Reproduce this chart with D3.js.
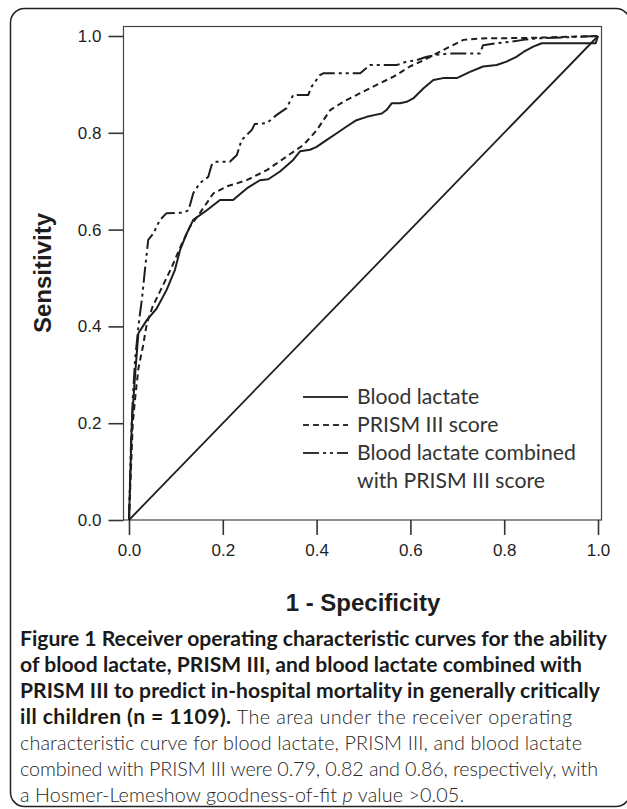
<!DOCTYPE html>
<html>
<head>
<meta charset="utf-8">
<script src="https://cdn.jsdelivr.net/npm/d3@7"></script>
<style>
  body { margin: 0; background: #fff; }
  svg { display: block; }
</style>
</head>
<body>
<svg id="chart"></svg>
<script>
// ROC curves (1 - specificity, sensitivity)
const lactateFpr = [0, 0.003, 0.006, 0.013, 0.020, 0.038, 0.059, 0.080, 0.098, 0.109, 0.123, 0.137, 0.166, 0.194, 0.222, 0.251, 0.279, 0.297, 0.322, 0.350, 0.365, 0.386, 0.400, 0.421, 0.443, 0.464, 0.485, 0.507, 0.525, 0.539, 0.549, 0.560, 0.578, 0.592, 0.606, 0.628, 0.649, 0.670, 0.699, 0.727, 0.755, 0.784, 0.805, 0.826, 0.841, 0.862, 0.880, 0.995, 1];
const lactateTpr = [0, 0.100, 0.200, 0.300, 0.386, 0.413, 0.437, 0.475, 0.517, 0.558, 0.592, 0.620, 0.640, 0.661, 0.661, 0.685, 0.702, 0.704, 0.720, 0.744, 0.762, 0.765, 0.771, 0.785, 0.799, 0.813, 0.826, 0.833, 0.837, 0.840, 0.847, 0.861, 0.861, 0.864, 0.871, 0.892, 0.909, 0.913, 0.913, 0.926, 0.937, 0.940, 0.947, 0.957, 0.967, 0.978, 0.985, 0.985, 1];

const prismFpr = [0, 0.004, 0.008, 0.014, 0.020, 0.030, 0.038, 0.050, 0.070, 0.090, 0.110, 0.130, 0.151, 0.180, 0.208, 0.251, 0.294, 0.336, 0.372, 0.400, 0.429, 0.457, 0.493, 0.528, 0.564, 0.599, 0.628, 0.656, 0.684, 0.713, 0.750, 0.850, 1];
const prismTpr = [0, 0.100, 0.200, 0.260, 0.313, 0.360, 0.406, 0.440, 0.480, 0.520, 0.565, 0.606, 0.634, 0.675, 0.689, 0.702, 0.723, 0.751, 0.775, 0.805, 0.847, 0.864, 0.882, 0.899, 0.916, 0.937, 0.950, 0.964, 0.978, 0.992, 0.995, 0.996, 1];

const combinedFpr = [0, 0.004, 0.008, 0.013, 0.020, 0.028, 0.034, 0.041, 0.052, 0.066, 0.080, 0.116, 0.127, 0.137, 0.151, 0.169, 0.176, 0.183, 0.215, 0.230, 0.240, 0.262, 0.268, 0.294, 0.315, 0.336, 0.350, 0.382, 0.389, 0.407, 0.414, 0.493, 0.514, 0.571, 0.592, 0.613, 0.635, 0.656, 0.684, 0.748, 0.755, 0.784, 0.812, 0.841, 0.870, 1];
const combinedTpr = [0, 0.150, 0.250, 0.331, 0.400, 0.460, 0.517, 0.579, 0.592, 0.620, 0.634, 0.635, 0.640, 0.675, 0.696, 0.709, 0.733, 0.740, 0.740, 0.754, 0.785, 0.806, 0.818, 0.820, 0.837, 0.851, 0.878, 0.878, 0.895, 0.919, 0.923, 0.923, 0.940, 0.940, 0.947, 0.950, 0.957, 0.961, 0.964, 0.964, 0.981, 0.985, 0.988, 0.992, 0.995, 1];

const tickValues = [0, 0.2, 0.4, 0.6, 0.8, 1.0];
const seriesNames = ["Blood lactate", "PRISM III score", "Blood lactate combined"];
const legendExtra = "with PRISM III score";

function main() {
  const width = 627, height = 809;
  const ink = "#1e1e1e";

  const styles = [
    {dash: null, sw: 2},
    {dash: "6,4", sw: 2},
    {dash: "16,4,3,4,3,4", sw: 2}
  ];

  const svg = d3.select("#chart")
    .attr("width", width)
    .attr("height", height);

  // outer figure frame, right edge just past the picture edge
  svg.append("rect")
    .attr("x", 10.5).attr("y", 8.5)
    .attr("width", 619.5).attr("height", 798)
    .attr("rx", 14)
    .attr("fill", "none")
    .attr("stroke", "#222")
    .attr("stroke-width", 1.5);

  const x = d3.scaleLinear().domain([0, 1]).range([129, 598]);
  const y = d3.scaleLinear().domain([0, 1]).range([520, 36]);

  // plot box
  svg.append("rect")
    .attr("x", 123.5).attr("y", 26.5)
    .attr("width", 478).attr("height", 493.5)
    .attr("fill", "none")
    .attr("stroke", "#444")
    .attr("stroke-width", 1.2);

  const fmt = d3.format(".1f");

  const yAxis = svg.append("g")
    .attr("transform", "translate(123.5,0)")
    .call(d3.axisLeft(y).tickValues(tickValues).tickFormat(fmt)
      .tickSize(15).tickSizeOuter(0).tickPadding(7));

  const xAxis = svg.append("g")
    .attr("transform", "translate(0,520)")
    .call(d3.axisBottom(x).tickValues(tickValues).tickFormat(fmt)
      .tickSize(15).tickSizeOuter(0).tickPadding(9));

  [xAxis, yAxis].forEach(ax => {
    ax.select(".domain").remove();
    ax.selectAll("line").attr("stroke", "#333").attr("stroke-width", 1.6);
    ax.selectAll("text")
      .attr("fill", ink)
      .attr("font-family", "'Liberation Sans', Arial, sans-serif")
      .attr("font-size", 17);
  });

  // axis titles
  svg.append("text")
    .attr("transform", "translate(43,273) rotate(-90)")
    .attr("text-anchor", "middle")
    .attr("dy", "0.35em")
    .attr("font-family", "'Liberation Sans', Arial, sans-serif")
    .attr("font-weight", "bold")
    .attr("font-size", 24)
    .attr("fill", ink)
    .text("Sensitivity");

  svg.append("text")
    .attr("x", 363).attr("y", 611)
    .attr("text-anchor", "middle")
    .attr("font-family", "'Liberation Sans', Arial, sans-serif")
    .attr("font-weight", "bold")
    .attr("font-size", 24)
    .attr("fill", ink)
    .text("1 - Specificity");

  // reference diagonal
  svg.append("line")
    .attr("x1", x(0)).attr("y1", y(0))
    .attr("x2", x(1)).attr("y2", y(1))
    .attr("stroke", ink)
    .attr("stroke-width", 1.8);

  const series = [
    d3.zip(lactateFpr, lactateTpr),
    d3.zip(prismFpr, prismTpr),
    d3.zip(combinedFpr, combinedTpr)
  ];

  const lineMaker = d3.line().x(d => x(d[0])).y(d => y(d[1]));

  svg.append("g")
    .selectAll("path")
    .data(series)
    .enter()
    .append("path")
      .attr("d", d => lineMaker(d))
      .attr("fill", "none")
      .attr("stroke", ink)
      .attr("stroke-width", (d, i) => styles[i].sw)
      .attr("stroke-dasharray", (d, i) => styles[i].dash)
      .attr("stroke-linejoin", "round");

  // legend
  const legendFont = "Lato, 'Open Sans', sans-serif";
  const rowY = [397, 425, 453, 481];
  const legend = svg.append("g");

  legend.selectAll("line")
    .data(seriesNames)
    .enter()
    .append("line")
      .attr("x1", 303).attr("x2", 348)
      .attr("y1", (d, i) => rowY[i]).attr("y2", (d, i) => rowY[i])
      .attr("stroke", "#333")
      .attr("stroke-width", 2)
      .attr("stroke-dasharray", (d, i) => styles[i].dash);

  const legendText = legend.selectAll("text")
    .data(seriesNames.concat([legendExtra]))
    .enter()
    .append("text")
      .attr("x", 357)
      .attr("y", (d, i) => rowY[i])
      .attr("dy", "0.35em")
      .attr("font-family", legendFont)
      .attr("font-size", 20)
      .attr("fill", "#333")
      .text(d => d);

  // scale legend font so the longest row matches the figure
  let longest = legendText.filter((d, i) => i === 2).node();
  let lsize = 20 * 219 / longest.getComputedTextLength();
  legendText.attr("font-size", lsize);

  // caption
  const capFont = "Lato, 'Open Sans', sans-serif";
  const capLines = [
    [["Figure 1 Receiver operating characteristic curves for the ability", "b"]],
    [["of blood lactate, PRISM III, and blood lactate combined with", "b"]],
    [["PRISM III to predict in-hospital mortality in generally critically", "b"]],
    [["ill children (n = 1109).", "b"], [" The area under the receiver operating", "n"]],
    [["characteristic curve for blood lactate, PRISM III, and blood lactate", "n"]],
    [["combined with PRISM III were 0.79, 0.82 and 0.86, respectively, with", "n"]],
    [["a Hosmer-Lemeshow goodness-of-fit ", "n"], ["p", "i"], [" value >0.05.", "n"]]
  ];
  const capY = [646, 672, 698, 724, 750, 776, 802];
  const capEnd = [607, 582, 600, 572, 582, 598, 464];
  const capX = 20;

  const caption = svg.append("g");
  let capText = [];
  capLines.forEach((parts, i) => {
    let t = caption.append("text")
      .attr("x", capX)
      .attr("y", capY[i])
      .attr("font-family", capFont);
    parts.forEach(p => {
      t.append("tspan")
        .attr("class", p[1] === "b" ? "bold" : "plain")
        .attr("font-size", 20)
        .attr("font-weight", p[1] === "b" ? "bold" : 300)
        .attr("font-style", p[1] === "i" ? "italic" : null)
        .attr("fill", p[1] === "b" ? "#1a1a1a" : "#262626")
        .text(p[0]);
    });
    capText.push(t);
  });

  // bold size from line 1, plain size from the two all-plain lines
  let bsize = 20 * (capEnd[0] - capX) / capText[0].node().getComputedTextLength();
  let p5 = 20 * (capEnd[4] - capX) / capText[4].node().getComputedTextLength();
  let p6 = 20 * (capEnd[5] - capX) / capText[5].node().getComputedTextLength();
  caption.selectAll("tspan.bold").attr("font-size", bsize);
  caption.selectAll("tspan.plain").attr("font-size", (p5 + p6) / 2);

  // trim small leftover differences with letter spacing
  capText.forEach((t, i) => {
    t.attr("textLength", capEnd[i] - capX).attr("lengthAdjust", "spacing");
  });
}

window.addEventListener("load", main);
</script>
</body>
</html>
